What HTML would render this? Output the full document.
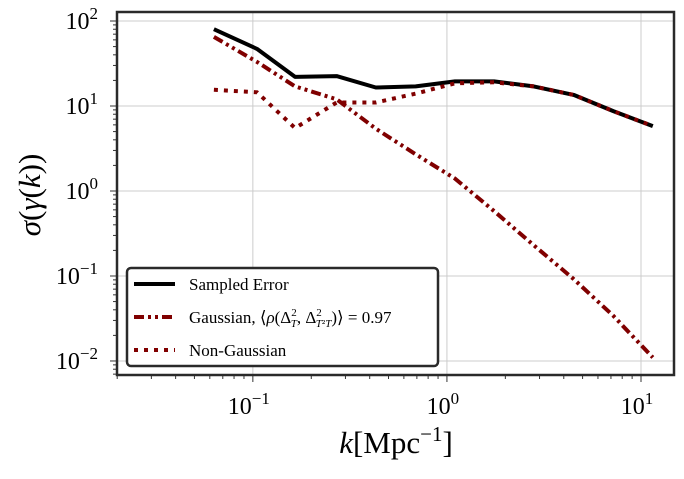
<!DOCTYPE html>
<html><head><meta charset="utf-8"><style>
body{margin:0;background:#fff}
svg text{font-family:"Liberation Serif","DejaVu Serif",serif;fill:#000}
</style></head><body>
<svg id="chart" width="684" height="474" xmlns="http://www.w3.org/2000/svg"></svg>
<script>
const kValues=[0.063,0.105,0.165,0.27,0.43,0.69,1.1,1.75,2.8,4.5,7.2,11.5];
const sampledError=[80,47,22,22.5,16.5,17,19.5,19.5,17,13.5,8.7,5.8];
const gaussian=[65,33,17,12,5.4,2.7,1.4,0.58,0.23,0.092,0.034,0.011];
const nonGaussian=[15.5,14.5,5.5,11,11,14,18.5,19,17,13.5,8.7,5.8];
const xTickExps=[-1,0,1];
const yTickExps=[-2,-1,0,1,2];

const svg=document.getElementById('chart');
const NS='http://www.w3.org/2000/svg';
const L=117,R=674,T=12,B=375;
const xMin=-1.70,xMax=1.17,yMin=-2.165,yMax=2.106;
const X=v=>L+(Math.log10(v)-xMin)/(xMax-xMin)*(R-L);
const Y=v=>B-(Math.log10(v)-yMin)/(yMax-yMin)*(B-T);
function mk(t,a,p){const e=document.createElementNS(NS,t);for(const k in a)e.setAttribute(k,a[k]);(p||svg).appendChild(e);return e;}

const grid=mk('g',{});


xTickExps.forEach(e=>mk('line',{x1:X(10**e),x2:X(10**e),y1:T,y2:B,stroke:'#cccccc','stroke-width':1},grid));
yTickExps.forEach(e=>mk('line',{x1:L,x2:R,y1:Y(10**e),y2:Y(10**e),stroke:'#cccccc','stroke-width':1},grid));

const ticks=mk('g',{stroke:'#333','stroke-width':1});


for(let e=-2;e<=1;e++)for(let m=1;m<10;m++){const v=m*10**e;const x=X(v);if(x<L||x>R)continue;mk('line',{x1:x,x2:x,y1:B,y2:B+(m==1?7:4)},ticks);}
for(let e=-3;e<=2;e++)for(let m=1;m<10;m++){const v=m*10**e;const y=Y(v);if(y<T||y>B)continue;mk('line',{x1:L,x2:L-(m==1?7:4),y1:y,y2:y},ticks);}

xTickExps.forEach(e=>{const t=mk('text',{x:X(10**e)-4,y:414,'font-size':24,'text-anchor':'middle'});


t.innerHTML='10<tspan dy="-10" font-size="17">'+(e<0?'−':'')+Math.abs(e)+'</tspan>';});
yTickExps.forEach(e=>{const t=mk('text',{x:98,y:Y(10**e)+8,'font-size':24,'text-anchor':'end'});


t.innerHTML='10<tspan dy="-10" font-size="17">'+(e<0?'−':'')+Math.abs(e)+'</tspan>';});

const xl=mk('text',{x:396,y:453,'font-size':31,'text-anchor':'middle'});


xl.innerHTML='<tspan font-style="italic">k</tspan>[Mpc<tspan dy="-12" font-size="21">−1</tspan><tspan dy="12">]</tspan>';
const yl=mk('text',{x:0,y:0,'font-size':31,'text-anchor':'middle',transform:'translate(40,195) rotate(-90)'});


yl.innerHTML='<tspan font-style="italic">σ</tspan>(<tspan font-style="italic">γ</tspan>(<tspan font-style="italic">k</tspan>))';

function series(vals,name,attrs){const d=vals.map((v,i)=>(i?'L':'M')+X(kValues[i]).toFixed(1)+','+Y(v).toFixed(1)).join('');
const p=mk('path',Object.assign({d:d,fill:'none'},attrs));

}
series(sampledError,'sampled-error-line',{stroke:'#000','stroke-width':4,'stroke-linejoin':'round'});
series(gaussian,'gaussian-line',{stroke:'#800000','stroke-width':4,'stroke-dasharray':'10 4 3 4 3 4'});
series(nonGaussian,'non-gaussian-line',{stroke:'#800000','stroke-width':4,'stroke-dasharray':'4 6'});

const fr=mk('rect',{x:L,y:T,width:R-L,height:B-T,fill:'none',stroke:'#2a2a2a','stroke-width':2.5});



const lg=mk('g',{});


mk('rect',{x:127,y:268,width:311,height:98,rx:4,fill:'#fff',stroke:'#2a2a2a','stroke-width':2.5},lg);
const ents=[['Sampled Error',{stroke:'#000'}],['',{stroke:'#800000','stroke-dasharray':'10 4 3 4 3 4'}],['Non-Gaussian',{stroke:'#800000','stroke-dasharray':'4 6'}]];
ents.forEach((en,i)=>{const y=284+i*33;
const g=mk('g',{},lg);


mk('line',Object.assign({x1:134,x2:175,y1:y,y2:y,'stroke-width':4},en[1]),g);
const t=mk('text',{x:189,y:y+6,'font-size':17},g);
if(i==1)t.innerHTML='Gaussian, ⟨<tspan font-style="italic">ρ</tspan>(Δ<tspan dy="-7" font-size="11">2</tspan><tspan dx="-6" dy="11" font-size="11" font-style="italic">T</tspan><tspan dy="-4">, Δ</tspan><tspan dy="-7" font-size="11">2</tspan><tspan dx="-6" dy="11" font-size="11"><tspan font-style="italic">T</tspan>²<tspan font-style="italic">T</tspan></tspan><tspan dy="-4">)⟩ = 0.97</tspan>';
else t.textContent=en[0];});
</script>
</body></html>
